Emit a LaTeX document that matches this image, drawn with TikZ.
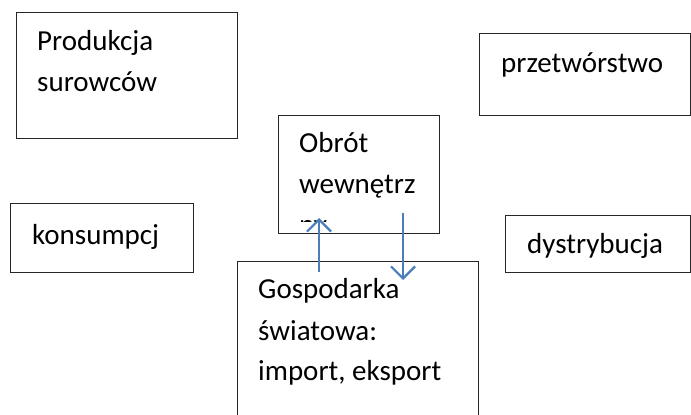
\documentclass[tikz,border=0pt]{standalone}
\usepackage{fontspec}
\setmainfont{Carlito}
\usetikzlibrary{arrows.meta}
\definecolor{arrowblue}{HTML}{4A7EBB}
\definecolor{boxline}{HTML}{262626}
\begin{document}
\begin{tikzpicture}[x=1pt,y=-1pt,
  box/.style={draw=boxline,line width=1.1pt,inner sep=0pt,anchor=north west},
  lbl/.style={anchor=base west,inner sep=0pt,font=\fontsize{29}{41}\selectfont},
  flow/.style={draw=arrowblue,line width=2.2pt,-{Straight Barb[length=12pt,width=24pt,line width=2.2pt]}}]
\useasboundingbox (0,0) rectangle (691,415);
% boxes
\node[box,minimum width=221pt,minimum height=126pt] (prod) at (16,12) {};
\node[box,minimum width=211pt,minimum height=82pt] (przet) at (479,33) {};
\node[box,minimum width=183pt,minimum height=69pt] (kons) at (10,203) {};
\node[box,minimum width=185pt,minimum height=57pt] (dyst) at (505,215) {};
\node[box,minimum width=161pt,minimum height=118pt] (obrot) at (278,115) {};
\node[box,minimum width=241pt,minimum height=170pt] (gosp) at (237,261) {};
% labels
\node[lbl] (t1a) at (37,50) {Produkcja};
\node[lbl] (t1b) at (37,91) {surowców};
\node[lbl] (t2) at (501,72) {przetwórstwo};
\node[lbl] (t3) at (32,244) {konsumpcj};
\node[lbl] (t4) at (527,253) {dystrybucja};
\node[lbl] (t5a) at (299,152) {Obrót};
\node[lbl] (t5b) at (299,193) {wewnętrz};
\begin{scope}
\clip (279,116) rectangle (438,221.8);
\node[lbl] (t5c) at (299,234) {ny};
\end{scope}
\node[lbl] (t6a) at (258,298) {Gospodarka};
\node[lbl] (t6b) at (258,340) {światowa:};
\node[lbl] (t6c) at (258,380) {import, eksport};
% arrows
\coordinate (upS) at (319,272);
\coordinate (upE) at (319,218);
\coordinate (dnS) at (403,213);
\coordinate (dnE) at (403,280);
\draw[flow] (upS) -- (upE);
\draw[flow] (dnS) -- (dnE);
\end{tikzpicture}
\end{document}
